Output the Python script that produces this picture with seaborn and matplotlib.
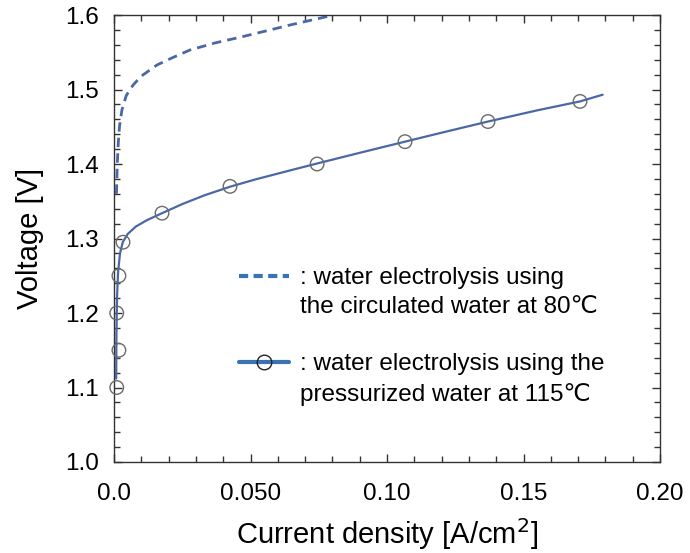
import matplotlib
matplotlib.use("Agg")
import matplotlib.pyplot as plt
import seaborn as sns
from matplotlib.lines import Line2D
from matplotlib.ticker import MultipleLocator

# Pressurized water at 115 C: measured points (circles)
pts_j = [0.001, 0.0018, 0.001, 0.0018, 0.0033, 0.0176, 0.0425, 0.0744, 0.1066, 0.137, 0.1707]
pts_v = [1.10, 1.15, 1.20, 1.25, 1.295, 1.334, 1.370, 1.400, 1.430, 1.457, 1.484]

# Pressurized water at 115 C: fitted curve
fit_j = [0.0008, 0.0009, 0.0011, 0.0015, 0.0022, 0.0032, 0.005, 0.008, 0.012, 0.0176,
         0.025, 0.033, 0.0425, 0.052, 0.0625, 0.0744, 0.09, 0.1066, 0.12, 0.137, 0.155,
         0.1707, 0.179]
fit_v = [1.112, 1.17, 1.22, 1.255, 1.28, 1.295, 1.306, 1.316, 1.3245, 1.334,
         1.3462, 1.3578, 1.3695, 1.3795, 1.3895, 1.4007, 1.415, 1.430, 1.442, 1.457,
         1.472, 1.484, 1.493]

# Circulated water at 80 C: dashed curve
circ_j = [0.0009, 0.0012, 0.0016, 0.002, 0.0029, 0.0045, 0.007, 0.010, 0.0158, 0.021,
          0.0278, 0.037, 0.046, 0.055, 0.0645, 0.079, 0.081]
circ_v = [1.360, 1.400, 1.430, 1.450, 1.4725, 1.492, 1.506, 1.518, 1.533, 1.542,
          1.553, 1.5625, 1.570, 1.578, 1.5866, 1.5987, 1.601]

x_ticks = [0.0, 0.05, 0.10, 0.15, 0.20]
x_labels = ["0.0", "0.050", "0.10", "0.15", "0.20"]
y_ticks = [1.0, 1.1, 1.2, 1.3, 1.4, 1.5, 1.6]

legend_lines_1 = [": water electrolysis using", "the circulated water at 80℃"]
legend_lines_2 = [": water electrolysis using the", "pressurized water at 115℃"]

sns.set_style("ticks")
plt.rcParams["font.family"] = ["Liberation Sans", "DejaVu Sans"]
plt.rcParams["text.color"] = "black"
plt.rcParams["axes.labelcolor"] = "black"
plt.rcParams["xtick.labelcolor"] = "black"
plt.rcParams["ytick.labelcolor"] = "black"

fig = plt.figure(figsize=(6.9, 5.53), dpi=100)
ax = fig.add_axes([114 / 690, (553 - 462) / 553, 546 / 690, 447 / 553])

line_col = "#4a68a6"
leg_col = "#3a72b4"

sns.lineplot(x=circ_j, y=circ_v, ax=ax, color=line_col, lw=2.0, linestyle=(0, (3.4, 2.2)),
             sort=False, estimator=None)
sns.lineplot(x=fit_j, y=fit_v, ax=ax, color=line_col, lw=1.6, sort=False, estimator=None)
sns.scatterplot(x=pts_j, y=pts_v, ax=ax, s=95, facecolor="none", edgecolor="#6a6a6a",
                linewidth=1.0, zorder=5, marker="o", clip_on=False)

ax.set_xlim(0, 0.20)
ax.set_ylim(1.0, 1.6)
ax.set_xticks(x_ticks)
ax.set_xticklabels(x_labels)
ax.set_yticks(y_ticks)
ax.set_yticklabels([f"{v:.1f}" for v in y_ticks])
ax.xaxis.set_minor_locator(MultipleLocator(0.01))
ax.yaxis.set_minor_locator(MultipleLocator(0.02))
ax.tick_params(which="both", direction="in", top=True, right=True, color="#333333")
ax.tick_params(which="major", length=6, width=1.0, labelsize=17.5)
ax.tick_params(axis="x", which="major", pad=15)
ax.tick_params(axis="y", which="major", pad=11)
ax.tick_params(which="minor", length=4, width=1.0)
for sp in ax.spines.values():
    sp.set_color("#333333")
    sp.set_linewidth(1.0)

ax.set_xlabel("Current density [A/cm$^2$]", fontsize=21, labelpad=8)
ax.set_ylabel("Voltage [V]", fontsize=21, labelpad=15)

fs = 17.5
h_dash = Line2D([], [], color=leg_col, lw=3, linestyle=(0, (2.2, 1.3)))
h_circ = Line2D([], [], color=leg_col, lw=3, marker="o", markersize=10.5,
                markerfacecolor="none", markeredgecolor="#222222", markeredgewidth=1.0)
h_blank = Line2D([], [], color="none", lw=0)

common = dict(loc="upper left", frameon=False, fontsize=fs, handlelength=2.05,
              handletextpad=0.45, labelspacing=0.3, borderpad=0, borderaxespad=0)
leg1 = ax.legend([h_dash, h_blank], legend_lines_1, bbox_to_anchor=(0.229, 0.436), **common)
ax.add_artist(leg1)
ax.legend([h_circ, h_blank], legend_lines_2, bbox_to_anchor=(0.229, 0.243), **common)

fig.savefig("out.png", dpi=100)
